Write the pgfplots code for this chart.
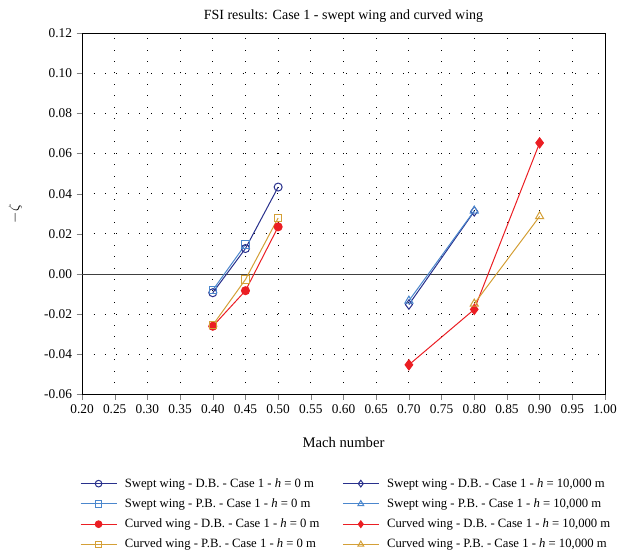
\documentclass[border=0pt]{standalone}
\usepackage{fontspec}
\setmainfont{Liberation Serif}
\usepackage{pgfplots}
\pgfplotsset{compat=1.18}

\definecolor{sweptdb}{RGB}{40,48,140}
\definecolor{sweptpb}{RGB}{75,135,205}
\definecolor{curveddb}{RGB}{235,30,35}
\definecolor{curvedpb}{RGB}{212,160,55}

\begin{document}
\begin{tikzpicture}
\begin{axis}[
  name=ax,
  scale only axis,
  width=392pt, height=271pt,
  xmin=0.20, xmax=1.00, ymin=-0.06, ymax=0.12,
  xtick={0.20,0.25,...,1.001},
  ytick={-0.06,-0.04,...,0.121},
  xticklabel style={/pgf/number format/.cd,fixed,fixed zerofill,precision=2},
  yticklabel style={/pgf/number format/.cd,fixed,fixed zerofill,precision=2},
  /pgf/number format/assume math mode=true,
  tick label style={font=\fontsize{10}{12}\selectfont},
  tick align=outside,
  xtick pos=left, ytick pos=left,
  major tick length=4pt,
  grid=major,
  major grid style={black, line width=0.6pt, dash pattern=on 0.6pt off 8pt},
  axis line style={black, line width=0.6pt},
  title={FSI results: Case 1 - swept wing and curved wing},
  title style={font=\fontsize{10.5}{12}\selectfont, yshift=-2pt},
  xlabel={Mach number},
  xlabel style={yshift=-10.5pt},
  ylabel={$-\zeta$},
  ylabel style={yshift=10pt},
  label style={font=\fontsize{11}{13}\selectfont},
  legend columns=2,
  legend cell align=left,
  legend style={
    at={(-0.012,-0.216)}, anchor=north west, draw=none,
    font=\fontsize{9.5}{11}\selectfont,
    row sep=3.1pt,
    /tikz/every odd column/.append style={column sep=3.8pt},
    /tikz/every even column/.append style={column sep=15pt},
  },
  legend image code/.code={
    \draw[mark repeat=2,mark phase=2,mark size=2.5pt]
      plot coordinates {(0cm,0cm) (0.475cm,0cm) (0.95cm,0cm)};
  },
  every axis plot/.append style={line width=0.75pt},
]

% zero reference line
\addplot[black!75, line width=0.8pt, forget plot] coordinates {(0.20,0) (1.00,0)};

% swept wing, direct-based, h = 0 m
\addplot[sweptdb, mark=o, mark size=3pt, mark options={fill=white}]
  coordinates {(0.40,-0.0093) (0.45,0.0127) (0.50,0.0433)};
\addlegendentry{Swept wing - D.B. - Case 1 - \textit{h} = 0 m}

% swept wing, direct-based, h = 10,000 m
\addplot[sweptdb, mark=diamond, mark size=3.5pt, mark options={fill=white}]
  coordinates {(0.70,-0.0152) (0.80,0.0312)};
\addlegendentry{Swept wing - D.B. - Case 1 - \textit{h} = 10,000 m}

% swept wing, pressure-based, h = 0 m
\addplot[sweptpb, mark=square, mark size=2.8pt, mark options={fill=white}]
  coordinates {(0.40,-0.0080) (0.45,0.0147)};
\addlegendentry{Swept wing - P.B. - Case 1 - \textit{h} = 0 m}

% swept wing, pressure-based, h = 10,000 m
\addplot[sweptpb, mark=triangle, mark size=3.5pt, mark options={fill=white}]
  coordinates {(0.70,-0.0133) (0.80,0.0315)};
\addlegendentry{Swept wing - P.B. - Case 1 - \textit{h} = 10,000 m}

% curved wing, direct-based, h = 0 m
\addplot[curveddb, mark=*, mark size=3pt]
  coordinates {(0.40,-0.0260) (0.45,-0.0083) (0.50,0.0235)};
\addlegendentry{Curved wing - D.B. - Case 1 - \textit{h} = 0 m}

% curved wing, direct-based, h = 10,000 m
\addplot[curveddb, mark=diamond*, mark size=3.8pt]
  coordinates {(0.70,-0.0452) (0.80,-0.0176) (0.90,0.0653)};
\addlegendentry{Curved wing - D.B. - Case 1 - \textit{h} = 10,000 m}

% curved wing, pressure-based, h = 0 m
\addplot[curvedpb, mark=square, mark size=2.8pt, mark options={fill=white}]
  coordinates {(0.40,-0.0254) (0.45,-0.0027) (0.50,0.0279)};
\addlegendentry{Curved wing - P.B. - Case 1 - \textit{h} = 0 m}

% curved wing, pressure-based, h = 10,000 m
\addplot[curvedpb, mark=triangle, mark size=3.5pt, mark options={fill=white}]
  coordinates {(0.80,-0.0148) (0.90,0.0287)};
\addlegendentry{Curved wing - P.B. - Case 1 - \textit{h} = 10,000 m}

\end{axis}
\pgfresetboundingbox
\path ([xshift=-61.5pt,yshift=-117.75pt]ax.south west)
  rectangle ([xshift=9.75pt,yshift=24.75pt]ax.north east);
\end{tikzpicture}
\end{document}
